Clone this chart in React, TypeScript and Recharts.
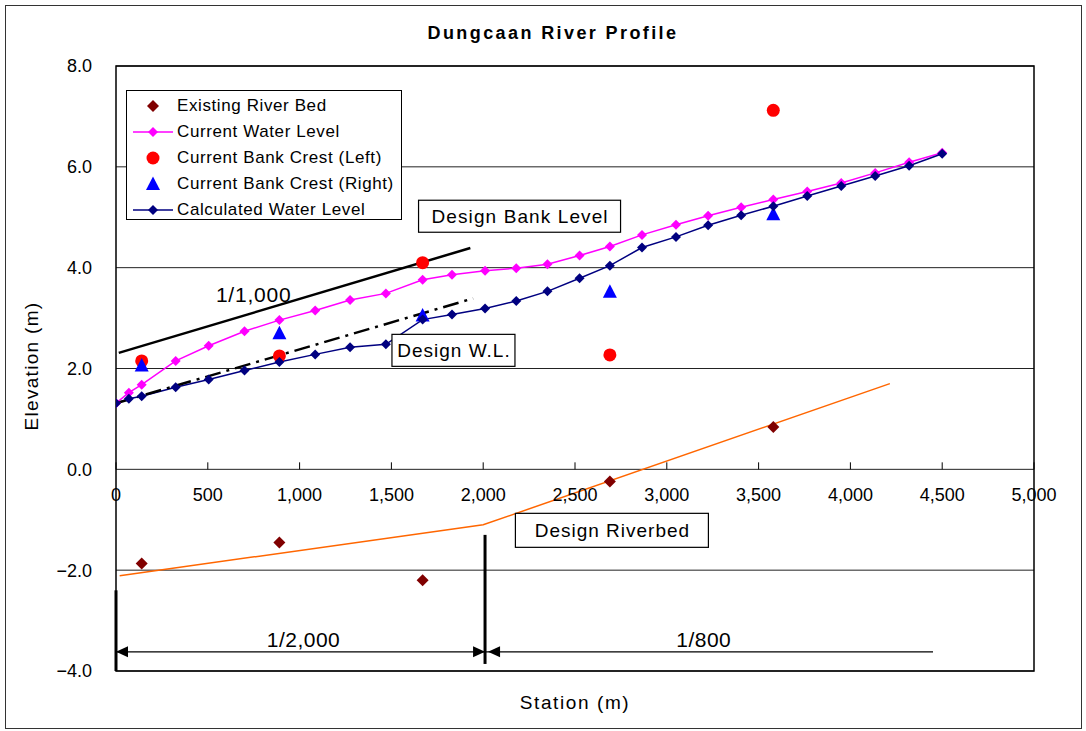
import React from 'react';
import {
  ComposedChart, Line, Scatter, XAxis, YAxis, CartesianGrid,
  ReferenceLine, ReferenceDot, ReferenceArea, Legend,
} from 'recharts';

// ---------------- data ----------------
const stations = [0, 70, 140, 325, 505, 700, 890, 1085, 1275, 1470, 1670, 1830, 2010, 2180, 2350, 2525, 2690, 2865, 3050, 3225, 3405, 3580, 3765, 3950, 4135, 4320, 4500];
const currentWaterLevel = [1.31, 1.52, 1.68, 2.15, 2.45, 2.74, 2.96, 3.15, 3.36, 3.49, 3.76, 3.86, 3.94, 3.99, 4.07, 4.24, 4.42, 4.65, 4.85, 5.03, 5.20, 5.35, 5.51, 5.68, 5.88, 6.09, 6.28];
const calculatedWaterLevel = [1.31, 1.40, 1.45, 1.63, 1.78, 1.96, 2.13, 2.28, 2.42, 2.48, 2.97, 3.07, 3.19, 3.34, 3.53, 3.79, 4.04, 4.40, 4.61, 4.84, 5.04, 5.22, 5.42, 5.62, 5.82, 6.02, 6.26];
const surveyStations = [140, 890, 1670, 2690, 3580];
const existingRiverBed = [-1.87, -1.45, -2.20, -0.24, 0.84];
const bankCrestLeft = [2.15, 2.25, 4.10, 2.27, 7.12];
const bankCrestRight = [2.06, 2.70, 3.05, 3.52, 5.06];
const designRiverbedStations = [20, 2000, 4215];
const designRiverbed = [-2.11, -1.10, 1.70];
const designBankStations = [15, 1930];
const designBankLevel = [2.31, 4.39];
const designWLStations = [0, 1945];
const designWL = [1.31, 3.39];
const xTicks = [0, 500, 1000, 1500, 2000, 2500, 3000, 3500, 4000, 4500, 5000];
const yTicks = [-4, -2, 0, 2, 4, 6, 8];

const seriesNames = [
  'Existing River Bed',
  'Current Water Level',
  'Current Bank Crest (Left)',
  'Current Bank Crest (Right)',
  'Calculated Water Level',
];

// slope sections (data coordinates)
const sectionBreak = 2010;
const sectionEnd = 4450;
const sectionArrowY = -3.62;

// ---------------- layout ----------------
const FONT = '"Liberation Sans", Arial, sans-serif';
const W = 1086;
const H = 731;
const MARGIN = { top: 66, right: 52, bottom: 30, left: 6 };
const Y_AXIS_W = 110;
const X_AXIS_H = 30;
const PLOT_H = H - MARGIN.top - MARGIN.bottom - X_AXIS_H;
const Y_MIN = -4;
const Y_MAX = 8;

const pts = (xs: number[], ys: number[]) => xs.map((x, i) => ({ x, y: ys[i] }));

const currentWLData = pts(stations, currentWaterLevel);
const calcWLData = pts(stations, calculatedWaterLevel);
const bedData = pts(surveyStations, existingRiverBed);
const leftData = pts(surveyStations, bankCrestLeft);
const rightData = pts(surveyStations, bankCrestRight);
const designBedData = pts(designRiverbedStations, designRiverbed);
const designBankData = pts(designBankStations, designBankLevel);
const designWLData = pts(designWLStations, designWL);

const Diamond = ({ cx, cy, r, fill }: any) => (
  <polygon points={`${cx},${cy - r} ${cx + r},${cy} ${cx},${cy + r} ${cx - r},${cy}`} fill={fill} />
);
const Triangle = ({ cx, cy, fill }: any) => (
  <polygon points={`${cx},${cy - 7.5} ${cx + 7},${cy + 6} ${cx - 7},${cy + 6}`} fill={fill} />
);

const XTick = (p: any) => {
  const zeroY = p.y - PLOT_H * (0 - Y_MIN) / (Y_MAX - Y_MIN);
  return (
    <g>
      <line x1={p.x} x2={p.x} y1={zeroY - 7} y2={zeroY} stroke="#000" strokeWidth={1} />
      <text x={p.x} y={zeroY + 32} textAnchor="middle" fontSize={18} fontFamily={FONT} fill="#000">
        {Number(p.payload.value).toLocaleString('en-US')}
      </text>
    </g>
  );
};

const boxLabel = (text: string, w: number, h: number, fontSize: number, box: boolean, spacing: number) => (p: any) => (
  <g>
    {box && (
      <rect x={p.cx - w / 2} y={p.cy - h / 2} width={w} height={h} fill="#fff" stroke="#000" strokeWidth={1.2} />
    )}
    <text x={p.cx + spacing / 2} y={p.cy} textAnchor="middle" dominantBaseline="central" fontSize={fontSize}
      fontFamily={FONT} fill="#000" letterSpacing={spacing}>
      {text}
    </text>
  </g>
);

const arrowHead = (dir: 'left' | 'right') => (p: any) => {
  const { cx, cy } = p;
  const L = 12;
  const hh = 5.5;
  const pts2 = dir === 'left'
    ? `${cx},${cy} ${cx + L},${cy - hh} ${cx + L},${cy + hh}`
    : `${cx},${cy} ${cx - L},${cy - hh} ${cx - L},${cy + hh}`;
  return <polygon points={pts2} fill="#000" />;
};

const renderLegend = () => {
  const row = (i: number, marker: React.ReactNode) => (
    <div key={i} style={{ display: 'flex', alignItems: 'center', height: 26 }}>
      <svg width={50} height={26} style={{ flex: 'none' }}>{marker}</svg>
      <span style={{ fontSize: 17, fontFamily: FONT, color: '#000', whiteSpace: 'nowrap', marginLeft: 0, letterSpacing: 0.6 }}>{seriesNames[i]}</span>
    </div>
  );
  return (
    <div style={{ border: '1px solid #000', background: '#fff', width: 276, height: 130, boxSizing: 'border-box', paddingTop: 2 }}>
      {row(0, <Diamond cx={26} cy={13} r={6} fill="#800000" />)}
      {row(1, <g><line x1={6} x2={46} y1={13} y2={13} stroke="#FF00FF" strokeWidth={1.5} /><Diamond cx={26} cy={13} r={5} fill="#FF00FF" /></g>)}
      {row(2, <circle cx={26} cy={13} r={6.5} fill="#FF0000" />)}
      {row(3, <Triangle cx={26} cy={13} fill="#0000FF" />)}
      {row(4, <g><line x1={6} x2={46} y1={13} y2={13} stroke="#000080" strokeWidth={1.5} /><Diamond cx={26} cy={13} r={5} fill="#000080" /></g>)}
    </div>
  );
};

export default function App() {
  return (
    <div style={{ position: 'absolute', left: 0, top: 0, width: W, height: H, background: '#fff', fontFamily: FONT }}>
      <div style={{ position: 'absolute', left: 5, top: 5, width: 1077, height: 724, border: '1.5px solid #333', boxSizing: 'border-box' }} />
      <div style={{ position: 'absolute', left: 353, top: 23, width: 400, textAlign: 'center', fontSize: 18, fontWeight: 'bold', color: '#000', letterSpacing: 2.4, whiteSpace: 'nowrap' }}>
        Dungcaan River Profile
      </div>
      <div style={{ position: 'absolute', left: 475, top: 692, width: 200, textAlign: 'center', fontSize: 19, color: '#000', whiteSpace: 'nowrap', letterSpacing: 1.6 }}>
        Station (m)
      </div>
      <div style={{ position: 'absolute', left: 32, top: 367, width: 0, height: 0 }}>
        <div style={{ position: 'absolute', left: -100, top: -12, width: 200, textAlign: 'center', fontSize: 19, color: '#000', transform: 'rotate(-90deg)', whiteSpace: 'nowrap', letterSpacing: 1.3 }}>
          Elevation (m)
        </div>
      </div>
      <div style={{ position: 'absolute', left: 0, top: 0 }}>
        <ComposedChart width={W} height={H} margin={MARGIN}>
          <CartesianGrid horizontal vertical={false} stroke="#222" strokeWidth={1} />
          <XAxis
            type="number" dataKey="x" domain={[0, 5000]} ticks={xTicks} interval={0}
            height={X_AXIS_H} axisLine={false} tickLine={false} tickSize={0} tickMargin={0}
            tick={(p: any) => <XTick {...p} />} allowDataOverflow
          />
          <YAxis
            type="number" domain={[Y_MIN, Y_MAX]} ticks={yTicks} interval={0} width={Y_AXIS_W}
            axisLine={false} tickLine={false} tickSize={0} tickMargin={24}
            tick={{ fontSize: 18, fill: '#000', fontFamily: FONT }}
            tickFormatter={(v: number) => (v < 0 ? '−' : '') + Math.abs(v).toFixed(1)}
            allowDataOverflow
          />
          <ReferenceArea x1={0} x2={5000} y1={Y_MIN} y2={Y_MAX} fill="none" fillOpacity={0} stroke="#000" strokeWidth={1.5} />
          <Legend layout="vertical" align="center" verticalAlign="middle" wrapperStyle={{ left: 126, top: 90, width: 276, height: 130 }} content={renderLegend} />

          <Line data={designBedData} dataKey="y" name="Design Riverbed" stroke="#FF6600" strokeWidth={1.5} dot={false} activeDot={false} isAnimationActive={false} legendType="none" />
          <Scatter data={bedData} dataKey="y" name={seriesNames[0]} fill="#800000" isAnimationActive={false}
            shape={(p: any) => <Diamond cx={p.cx} cy={p.cy} r={6} fill="#800000" />} />
          <Line data={currentWLData} dataKey="y" name={seriesNames[1]} stroke="#FF00FF" strokeWidth={1.5} isAnimationActive={false} activeDot={false}
            dot={(p: any) => <Diamond key={`c${p.index}`} cx={p.cx} cy={p.cy} r={5} fill="#FF00FF" />} />
          <Scatter data={leftData} dataKey="y" name={seriesNames[2]} fill="#FF0000" isAnimationActive={false}
            shape={(p: any) => <circle cx={p.cx} cy={p.cy} r={6.5} fill="#FF0000" />} />
          <Scatter data={rightData} dataKey="y" name={seriesNames[3]} fill="#0000FF" isAnimationActive={false}
            shape={(p: any) => <Triangle cx={p.cx} cy={p.cy} fill="#0000FF" />} />
          <Line data={calcWLData} dataKey="y" name={seriesNames[4]} stroke="#000080" strokeWidth={1.5} isAnimationActive={false} activeDot={false}
            dot={(p: any) => <Diamond key={`k${p.index}`} cx={p.cx} cy={p.cy} r={5} fill="#000080" />} />
          <Line data={designBankData} dataKey="y" name="Design Bank Level" stroke="#000" strokeWidth={2.5} dot={false} activeDot={false} isAnimationActive={false} legendType="none" />
          <Line data={designWLData} dataKey="y" name="Design W.L." stroke="#000" strokeWidth={2.5} strokeDasharray="16 6 3 6" dot={false} activeDot={false} isAnimationActive={false} legendType="none" />

          <ReferenceLine segment={[{ x: 0, y: -2.4 }, { x: 0, y: Y_MIN }]} stroke="#000" strokeWidth={3} />
          <ReferenceLine segment={[{ x: sectionBreak, y: -1.3 }, { x: sectionBreak, y: -3.86 }]} stroke="#000" strokeWidth={3} />
          <ReferenceLine segment={[{ x: 0, y: sectionArrowY }, { x: sectionBreak, y: sectionArrowY }]} stroke="#000" strokeWidth={1.2} />
          <ReferenceLine segment={[{ x: sectionBreak, y: sectionArrowY }, { x: sectionEnd, y: sectionArrowY }]} stroke="#000" strokeWidth={1.2} />
          <ReferenceDot x={0} y={sectionArrowY} r={0} shape={arrowHead('left')} />
          <ReferenceDot x={sectionBreak} y={sectionArrowY} r={0} shape={arrowHead('right')} />
          <ReferenceDot x={sectionBreak} y={sectionArrowY} r={0} shape={(p: any) => arrowHead('left')({ cx: p.cx + 3, cy: p.cy })} />

          <ReferenceDot x={2198} y={5.02} r={0} shape={boxLabel('Design Bank Level', 202, 32, 19, true, 1.1)} />
          <ReferenceDot x={1838} y={2.36} r={0} shape={boxLabel('Design W.L.', 123, 32, 19, true, 1)} />
          <ReferenceDot x={2701} y={-1.21} r={0} shape={boxLabel('Design Riverbed', 193, 34, 19, true, 1)} />
          <ReferenceDot x={748} y={3.46} r={0} shape={boxLabel('1/1,000', 0, 0, 21, false, 0.8)} />
          <ReferenceDot x={1020} y={-3.38} r={0} shape={boxLabel('1/2,000', 0, 0, 21, false, 0.5)} />
          <ReferenceDot x={3200} y={-3.38} r={0} shape={boxLabel('1/800', 0, 0, 21, false, 0.5)} />
        </ComposedChart>
      </div>
    </div>
  );
}
